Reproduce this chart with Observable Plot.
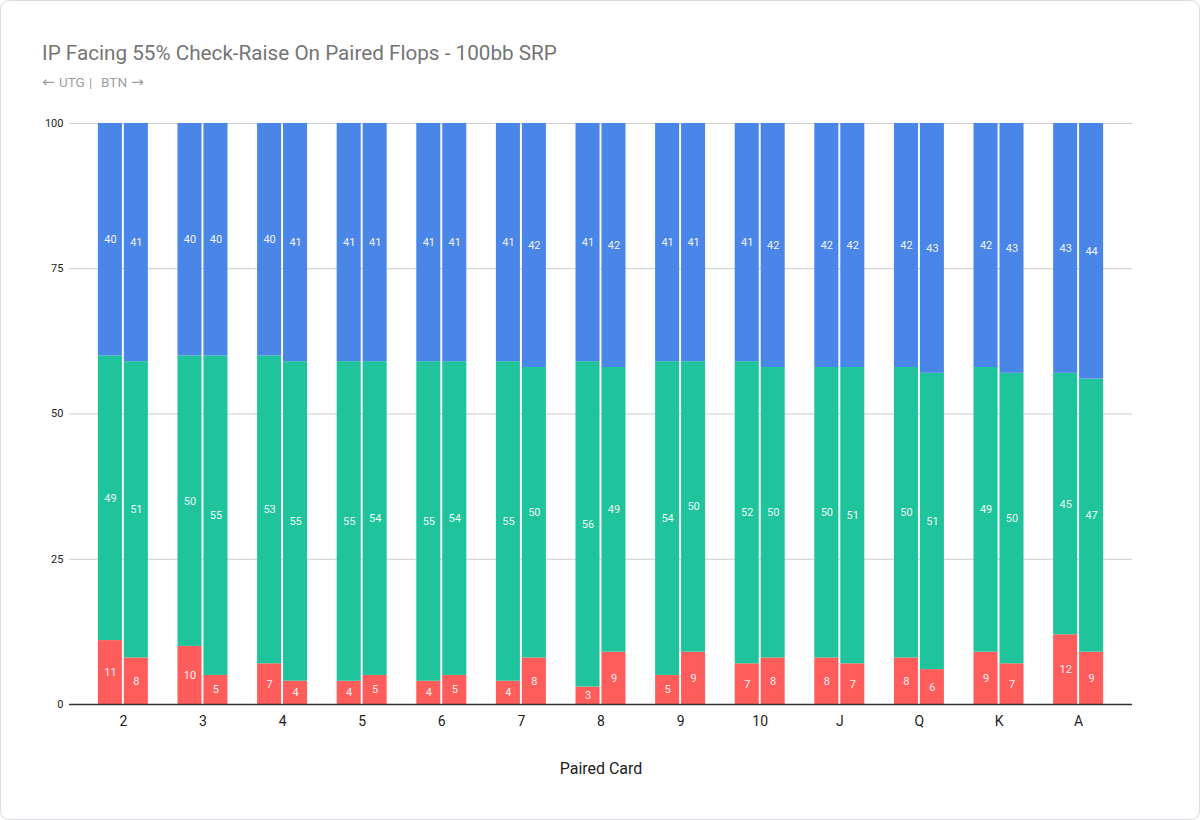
<!DOCTYPE html>
<html>
<head>
<meta charset="utf-8">
<script src="https://cdn.jsdelivr.net/npm/d3@7"></script>
<script src="https://cdn.jsdelivr.net/npm/@observablehq/plot@0.6"></script>
<style>
  html, body { margin: 0; padding: 0; background: #fff; }
  body { width: 1200px; height: 820px; font-family: Roboto, "Noto Sans", Arial, sans-serif; }
  #card { position: absolute; left: 0; top: 0; width: 1198px; height: 818px; border: 1px solid #dadce0; border-radius: 9px; box-sizing: content-box; overflow: hidden; background: #fff; }
  #title { position: absolute; left: 41px; top: 40px; font-size: 20.7px; color: #757575; white-space: nowrap; }
  #subtitle { position: absolute; left: 41px; top: 72px; font-size: 13.5px; color: #9e9e9e; white-space: nowrap; word-spacing: 1px; }
  #subtitle .arr { font-family: "DejaVu Sans", sans-serif; font-size: 15px; }
  #chart { position: absolute; left: 0; top: 100px; }
  #chart svg { overflow: visible; }
  g[aria-label="x-axis label"] text { font-size: 16px; fill: #222; }
</style>
</head>
<body>
<div id="card">
  <div id="title">IP Facing 55% Check-Raise On Paired Flops - 100bb SRP</div>
  <div id="subtitle"><span class="arr">←</span> UTG |&nbsp; BTN <span class="arr">→</span></div>
  <div id="chart"></div>
</div>
<script>
const cards = ["2","3","4","5","6","7","8","9","10","J","Q","K","A"];
const seriesNames = ["Raise", "Call", "Fold"];
const colors = ["#ff5c5c", "#1fc49c", "#4a86e8"];
const yTicks = [0, 25, 50, 75, 100];

// UTG (left bar of each pair)
const utgRed   = [11,10, 7, 4, 4, 4, 3, 5, 7, 8, 8, 9,12];
const utgGreen = [49,50,53,55,55,55,56,54,52,50,50,49,45];
const utgBlue  = [40,40,40,41,41,41,41,41,41,42,42,42,43];
// BTN (right bar of each pair)
const btnRed   = [ 8, 5, 4, 5, 5, 8, 9, 9, 8, 7, 6, 7, 9];
const btnGreen = [51,55,55,54,54,50,49,50,50,51,51,50,47];
const btnBlue  = [41,40,41,41,41,42,42,41,42,42,43,43,44];

function rows(pos, red, green, blue) {
  const out = [];
  cards.forEach((c, i) => {
    [red[i], green[i], blue[i]].forEach((v, k) => out.push({card: c, pos, series: seriesNames[k], value: v}));
  });
  return out;
}
const utg = rows("UTG", utgRed, utgGreen, utgBlue);
const btn = rows("BTN", btnRed, btnGreen, btnBlue);

const half = 26; // inset to place each bar in half of the band
const stackOpts = {x: "card", y: "value", z: "series", fill: "series", order: seriesNames};
const textOpts = {x: "card", y: "value", z: "series", order: seriesNames, text: "value", fill: "white", fillOpacity: 0.95, fontSize: 11};

const chart = Plot.plot({
  width: 1200,
  height: 700,
  marginLeft: 68,
  marginRight: 67,
  marginTop: 22,
  marginBottom: 96,
  style: {fontFamily: "Roboto, 'Noto Sans', Arial, sans-serif", color: "#222", background: "transparent"},
  x: {domain: cards, paddingInner: 0.372, paddingOuter: 0.364, round: false, label: "Paired Card"},
  y: {domain: [0, 100], label: null},
  color: {domain: seriesNames, range: colors},
  marks: [
    Plot.ruleY(yTicks.filter(d => d > 0), {stroke: "#cccccc", strokeWidth: 1}),
    Plot.axisY({ticks: yTicks, tickSize: 0, tickPadding: 6, fontSize: 11, label: null, color: "#222"}),
    Plot.axisX({tickSize: 0, tickPadding: 12, fontSize: 14, label: "Paired Card", labelAnchor: "center", labelOffset: 70, color: "#222"}),
    Plot.barY(utg, Plot.stackY({...stackOpts, insetRight: half, insetLeft: 0})),
    Plot.barY(btn, Plot.stackY({...stackOpts, insetLeft: half, insetRight: 0})),
    Plot.text(utg, Plot.stackY({...textOpts, dx: -13})),
    Plot.text(btn, Plot.stackY({...textOpts, dx: 13})),
    Plot.ruleY([0], {stroke: "#333", strokeWidth: 1.3})
  ]
});
document.getElementById("chart").appendChild(chart);
</script>
</body>
</html>
